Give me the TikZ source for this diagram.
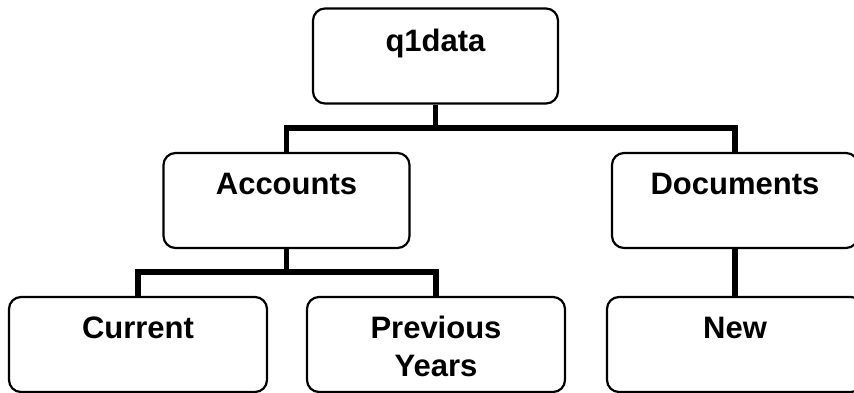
\documentclass[tikz,border=0pt]{standalone}
\usepackage{fontspec}
\setmainfont{Liberation Sans}
\begin{document}
\begin{tikzpicture}[x=1pt,y=-1pt,
  box/.style={draw=black,line width=2.2pt,rounded corners=12pt,inner sep=0pt,minimum height=95pt},
  topbox/.style={box,minimum width=246pt},
  lowbox/.style={box,minimum width=258pt},
  conn/.style={draw=black,line width=5.5pt,line join=miter},
  lbl/.style={anchor=base,inner sep=0pt,font=\fontsize{31}{38}\selectfont\bfseries}]
\clip (0,0) rectangle (854,392);
\fill[white] (0,0) rectangle (854,392);
% boxes
\node[box,minimum width=245pt] (q1) at (435.5,56) {};
\node[topbox] (acc) at (286.5,200.5) {};
\node[topbox] (doc) at (735,200.5) {};
\node[lowbox] (cur) at (138,344.5) {};
\node[lowbox] (prev) at (436,344.5) {};
\node[lowbox,minimum width=256pt] (new) at (735,344.5) {};
% labels
\node[lbl] (tq1) at (435.5,51) {q1data};
\node[lbl] (tacc) at (286.5,194) {Accounts};
\node[lbl] (tdoc) at (735,194) {Documents};
\node[lbl] (tcur) at (138,338.5) {Current};
\node[lbl] (tprev) at (436,338) {Previous};
\node[lbl] (tyears) at (436,376) {Years};
\node[lbl] (tnew) at (735,338.5) {New};
% connectors
\coordinate (b1) at (435.5,128);
\coordinate (b2) at (286.5,272);
\draw[conn] (q1.south) -- (b1);
\draw[conn] (acc.north) |- (b1) -| (doc.north);
\draw[conn] (acc.south) -- (b2);
\draw[conn] (cur.north) |- (b2) -| (prev.north);
\draw[conn] (doc.south) -- (new.north);
\end{tikzpicture}
\end{document}
